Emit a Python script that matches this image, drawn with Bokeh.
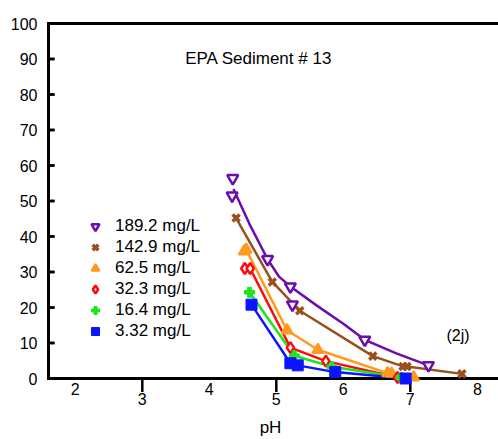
from bokeh.plotting import figure
from bokeh.models import FixedTicker, Range1d, Legend, LegendItem
from bokeh.core.properties import value
from bokeh.embed import file_html
from bokeh.resources import INLINE

FONT = "Liberation Sans"
INK = "#000000"
RULE_LAYERS = ["#808080", "#404040", "#000000"]

# ---- data (pH, % value) ----
ph_189 = [4.35, 4.34, 4.87, 5.21, 5.24, 6.32, 7.27]
v_189 = [56.4, 51.5, 33.6, 25.9, 20.8, 10.9, 3.7]
fit_ph_189 = [4.36, 4.6, 4.87, 5.04, 5.21, 5.6, 6.0, 6.32, 6.8, 7.27]
fit_v_189 = [53.4, 43.5, 33.6, 28.7, 25.9, 20.6, 15.4, 10.9, 7.0, 3.7]

ph_143 = [4.40, 4.94, 5.35, 6.44, 6.89, 6.95, 7.77]
v_143 = [45.2, 27.2, 19.1, 6.3, 3.4, 3.4, 1.3]

ph_625 = [4.52, 4.55, 5.16, 5.62, 6.66, 6.72, 7.05]
v_625 = [35.8, 36.3, 13.6, 8.1, 1.5, 1.4, 0.3]

ph_323 = [4.53, 4.61, 5.21, 5.74, 6.81]
v_323 = [31.0, 31.0, 8.7, 4.9, 0.3]

ph_164 = [4.60, 5.27, 5.83, 6.86]
v_164 = [24.3, 6.4, 3.3, 0.3]

ph_332 = [4.63, 5.21, 5.32, 5.88, 6.93]
v_332 = [20.8, 4.3, 3.7, 1.8, 0.0]

labels = ["189.2 mg/L", "142.9 mg/L", "62.5 mg/L", "32.3 mg/L", "16.4 mg/L", "3.32 mg/L"]
colors = ["#6A0DB0", "#99501C", "#FF9A1E", "#FF0A0A", "#1EE61E", "#0A14FF"]

x_even_ticks = [2, 4, 6, 8]
x_odd_ticks = [3, 5, 7]
y_ticks = list(range(0, 101, 10))

# axis extents (data units) and layout helpers
X_AX, X_END = 1.6, 8.316
Y_AX, Y_TOP = 0, 100
PX_X = 67.0      # pixels per pH unit
PX_Y = 3.55      # pixels per % unit

p = figure(width=498, height=439, output_backend="svg", toolbar_location=None,
           x_range=Range1d(X_AX - 6 / PX_X, X_END),
           y_range=Range1d(Y_AX - 32 / PX_Y, Y_TOP + 6 / PX_Y),
           min_border_left=42, min_border_right=0, min_border_top=17,
           min_border_bottom=29)
p.outline_line_color = None
p.xgrid.visible = False
p.ygrid.visible = False

# y axis: labels only
ya = p.yaxis[0]
ya.ticker = FixedTicker(ticks=y_ticks)
ya.axis_line_color = None
ya.major_tick_line_color = None
ya.minor_tick_line_color = None
ya.major_tick_in = 0
ya.major_tick_out = 0
ya.major_label_standoff = 5
ya.major_label_text_font = FONT
ya.major_label_text_font_size = "16px"
ya.major_label_text_color = "black"

# x axis: only the axis title
xa = p.xaxis[0]
xa.ticker = FixedTicker(ticks=[])
xa.axis_line_color = None
xa.major_tick_line_color = None
xa.minor_tick_line_color = None
xa.major_tick_in = 0
xa.major_tick_out = 0
xa.axis_label = "pH"
xa.axis_label_text_font = FONT
xa.axis_label_text_font_size = "17px"
xa.axis_label_text_font_style = "normal"
xa.axis_label_text_color = "black"
xa.axis_label_standoff = 7

# axis rules and inward y ticks (layered, darkest on top)
for c in RULE_LAYERS:
    p.line([X_AX, X_END], [Y_AX, Y_AX], line_color=c, line_width=3)
    p.line([X_AX, X_END], [Y_TOP, Y_TOP], line_color=c, line_width=3)
    p.line([X_AX, X_AX], [Y_AX, Y_TOP], line_color=c, line_width=3, line_cap="square")
    p.segment(x0=[X_AX] * len(y_ticks), y0=y_ticks,
              x1=[X_AX + 6 / PX_X] * len(y_ticks), y1=y_ticks,
              line_color=c, line_width=2.5)

# odd x ticks (downward)
p.segment(x0=x_odd_ticks, y0=[Y_AX] * len(x_odd_ticks),
          x1=x_odd_ticks, y1=[Y_AX - 13.5 / PX_Y] * len(x_odd_ticks),
          line_color=INK, line_width=2.5)
# x tick labels, staggered
p.text(x=x_even_ticks, y=[Y_AX - 10 / PX_Y] * len(x_even_ticks),
       text=[str(t) for t in x_even_ticks], text_font=value(FONT),
       text_font_size="16px", text_align="center", text_baseline="middle",
       text_color="black")
p.text(x=x_odd_ticks, y=[Y_AX - 20.5 / PX_Y] * len(x_odd_ticks),
       text=[str(t) for t in x_odd_ticks], text_font=value(FONT),
       text_font_size="16px", text_align="center", text_baseline="middle",
       text_color="black")

# series lines
p.line(fit_ph_189, fit_v_189, line_color=colors[0], line_width=2.5)
p.line(ph_143, v_143, line_color=colors[1], line_width=2.5)
p.line(ph_625[1:], v_625[1:], line_color=colors[2], line_width=2.5)
p.line(ph_323[1:], v_323[1:], line_color=colors[3], line_width=2.5)
p.line(ph_164, v_164, line_color=colors[4], line_width=2.5)
p.line(ph_332, v_332, line_color=colors[5], line_width=2.5)

# markers
r0 = p.scatter(ph_189, v_189, marker="inverted_triangle", size=11,
               fill_color="white", line_color=colors[0], line_width=2.5)
r1 = p.scatter(ph_143, v_143, marker="x", size=10,
               line_color=colors[1], line_width=3.5)
r2 = p.scatter(ph_625, v_625, marker="triangle", size=11,
               fill_color=colors[2], line_color=colors[2], line_width=2)
r3 = p.scatter(ph_323, v_323, marker="diamond", size=11,
               fill_color="white", line_color=colors[3], line_width=2.5)
r4 = p.scatter(ph_164, v_164, marker="plus", size=10,
               fill_color=colors[4], line_color=colors[4], line_width=1)
r5 = p.scatter(ph_332, v_332, marker="square", size=11,
               fill_color=colors[5], line_color=colors[5], line_width=1)

rends = [r0, r1, r2, r3, r4, r5]
legend = Legend(items=[LegendItem(label=l, renderers=[r]) for l, r in zip(labels, rends)],
                location=(43, 69))
legend.border_line_color = None
legend.background_fill_color = None
legend.padding = 0
legend.margin = 0
legend.spacing = 1
legend.glyph_width = 20
legend.glyph_height = 20
legend.label_height = 20
legend.label_standoff = 10
legend.label_text_font = FONT
legend.label_text_font_size = "17px"
legend.label_text_color = "black"
p.add_layout(legend, "center")

# annotations
p.text(x=[3.64], y=[90.1], text=["EPA Sediment # 13"], text_font=value(FONT),
       text_font_size="17px", text_baseline="middle", text_align="left",
       text_color="black")
p.text(x=[7.54], y=[12.1], text=["(2j)"], text_font=value(FONT),
       text_font_size="16px", text_baseline="middle", text_align="left",
       text_color="black")

open("out.html", "w").write(file_html(p, INLINE))
